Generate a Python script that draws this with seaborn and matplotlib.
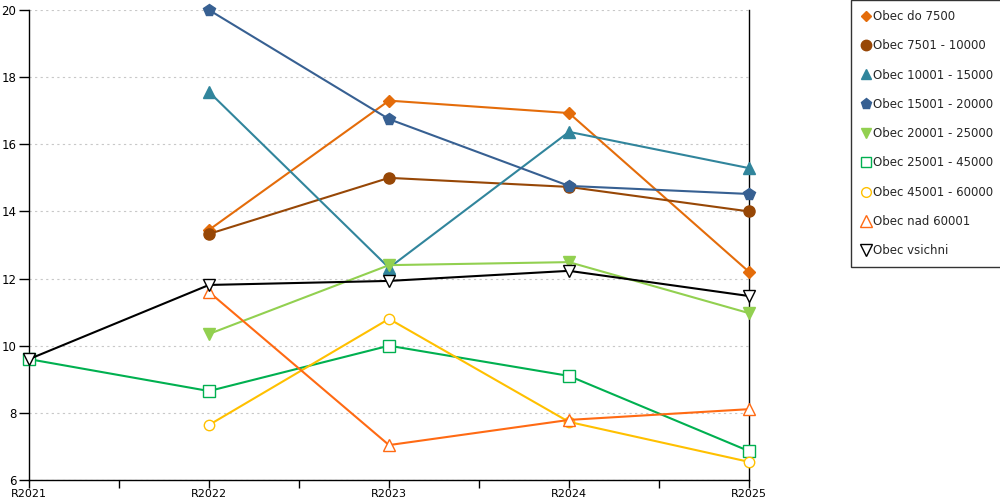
import numpy as np
import pandas as pd
import seaborn as sns
import matplotlib
matplotlib.use("Agg")
from matplotlib import pyplot as plt
from matplotlib.lines import Line2D

years = ["R2021", "R2022", "R2023", "R2024", "R2025"]
nan = np.nan

do_7500 = [nan, 13.45, 17.3, 16.93, 12.2]
obec_7501_10000 = [nan, 13.33, 15.0, 14.73, 14.0]
obec_10001_15000 = [nan, 17.56, 12.32, 16.37, 15.29]
obec_15001_20000 = [nan, 20.0, 16.75, 14.76, 14.52]
obec_20001_25000 = [nan, 10.35, 12.4, 12.49, 10.97]
obec_25001_45000 = [9.6, 8.65, 10.0, 9.1, 6.86]
obec_45001_60000 = [nan, 7.64, 10.8, 7.73, 6.54]
nad_60001 = [nan, 11.6, 7.04, 7.79, 8.11]
vsichni = [9.6, 11.81, 11.93, 12.23, 11.48]

names = ["Obec do 7500", "Obec 7501 - 10000", "Obec 10001 - 15000",
         "Obec 15001 - 20000", "Obec 20001 - 25000", "Obec 25001 - 45000",
         "Obec 45001 - 60000", "Obec nad 60001", "Obec vsichni"]
series = [do_7500, obec_7501_10000, obec_10001_15000, obec_15001_20000,
          obec_20001_25000, obec_25001_45000, obec_45001_60000, nad_60001, vsichni]

# color, marker, filled, marker size
styles = [
    ("#E46C0A", "D", True, 6),
    ("#974706", "o", True, 8),
    ("#31859C", "^", True, 8),
    ("#376092", "p", True, 8.5),
    ("#92D050", "v", True, 8),
    ("#00B050", "s", False, 8),
    ("#FFC000", "o", False, 7.5),
    ("#FF6A13", "^", False, 8.5),
    ("#000000", "v", False, 8.5),
]

sns.set_style("white")
plt.rcParams['font.family'] = ['DejaVu Sans']

fig = plt.figure(figsize=(10, 5), dpi=100)
ax = fig.add_axes([0.029, 0.04, 0.72, 0.94])

x = np.arange(len(years))
handles = []
for name, vals, (col, mk, filled, ms) in zip(names, series, styles):
    df = pd.DataFrame({"x": x, "y": vals}).dropna()
    sns.lineplot(data=df, x="x", y="y", ax=ax, color=col, linewidth=1.5,
                 marker=mk, markersize=ms,
                 markerfacecolor=col if filled else "white",
                 markeredgecolor=col, markeredgewidth=1.0,
                 zorder=3, clip_on=False)
    handles.append(Line2D([], [], linestyle="none", marker=mk, markersize=ms - 0.5,
                          color=col, markerfacecolor=col if filled else "white",
                          markeredgecolor=col))

ax.set_xlim(0, 4)
ax.set_ylim(6, 20)
ax.set_xticks(x)
ax.set_xticklabels(years)
ax.set_xticks(np.arange(0.5, 4, 1), minor=True)
ax.set_yticks(np.arange(6, 21, 2))
ax.set_xlabel("")
ax.set_ylabel("")
ax.yaxis.grid(True, linestyle=(0, (2, 3)), color="#C8C8C8", linewidth=0.8)
ax.xaxis.grid(False)
ax.set_axisbelow(True)

for side in ["left", "bottom", "right"]:
    ax.spines[side].set_visible(True)
    ax.spines[side].set_color("black")
    ax.spines[side].set_linewidth(1.0)
ax.spines["top"].set_visible(False)

ax.tick_params(axis="x", which="both", direction="out", length=6, width=1,
               colors="black", labelsize=8, pad=0.5, bottom=True)
ax.tick_params(axis="y", direction="out", length=7, width=1, colors="black",
               labelsize=8.5, pad=2, left=True)

leg = fig.legend(handles, names, loc="upper left", bbox_to_anchor=(0.851, 1.0),
                 frameon=True, fancybox=False, edgecolor="black", fontsize=8.5,
                 handletextpad=0.25, labelspacing=1.38, borderpad=0.85,
                 handlelength=0.8, borderaxespad=0)
leg.get_frame().set_linewidth(1.0)

fig.savefig("out.png", dpi=100)
